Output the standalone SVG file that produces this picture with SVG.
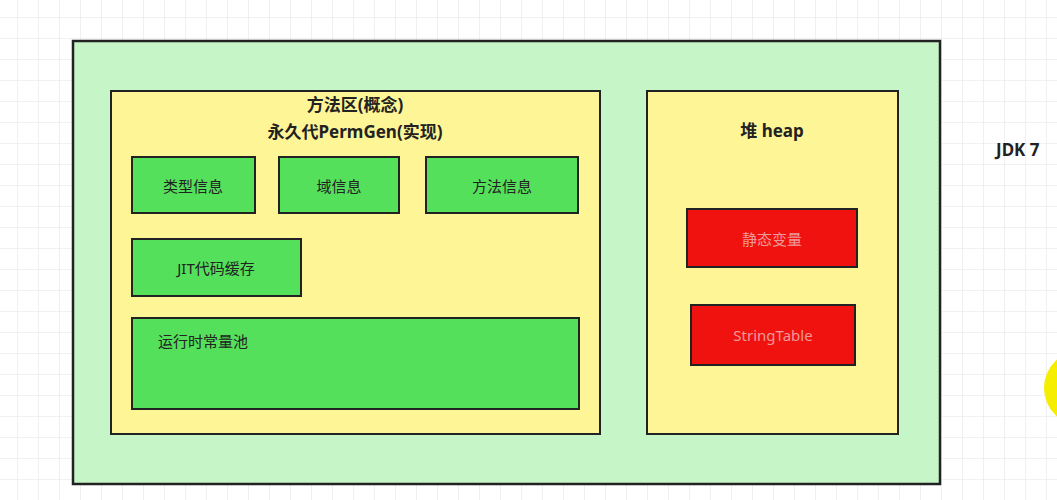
<svg xmlns="http://www.w3.org/2000/svg" width="1057" height="500" viewBox="0 0 1057 500">
<defs>
<pattern id="g" width="21" height="21" patternUnits="userSpaceOnUse" x="-3" y="-3">
<path d="M21 0V21H0" fill="none" stroke="#e6e6e6" stroke-width="1.2"/>
</pattern>
<style>
text{font-family:"Noto Sans","Noto Sans CJK SC",sans-serif;fill:#222}
.b{font-weight:bold;font-size:17px}
.n{font-size:15px}
.gr{fill:#55e05b;stroke:#222;stroke-width:2}
.rd{fill:#f0120f;stroke:#222;stroke-width:2}
.rt{fill:#e99}
</style>
</defs>
<rect width="1057" height="500" fill="#fff"/>
<rect width="1057" height="500" fill="url(#g)"/>
<circle cx="1082" cy="388" r="38" fill="#f5ee00"/>
<text x="996" y="156" class="b">JDK 7</text>
<g id="outer"><rect x="73" y="41" width="867" height="443" fill="#c6f5c8" stroke="#222" stroke-width="2.5"/></g>
<g id="method-area">
<rect x="111" y="91" width="489" height="343" fill="#fef696" stroke="#222" stroke-width="2"/>
<text x="355" y="111" class="b" text-anchor="middle">方法区(概念)</text>
<text x="355" y="138" class="b" text-anchor="middle">永久代PermGen(实现)</text>
</g>
<g id="type"><rect class="gr" x="132" y="157" width="123" height="56"/><text x="193" y="192" class="n" text-anchor="middle">类型信息</text></g>
<g id="field"><rect class="gr" x="279" y="157" width="120" height="56"/><text x="339" y="192" class="n" text-anchor="middle">域信息</text></g>
<g id="method"><rect class="gr" x="426" y="157" width="152" height="56"/><text x="502" y="192" class="n" text-anchor="middle">方法信息</text></g>
<g id="jit"><rect class="gr" x="132" y="239" width="169" height="57"/><text x="216" y="274" class="n" text-anchor="middle">JIT代码缓存</text></g>
<g id="pool"><rect class="gr" x="132" y="318" width="447" height="91"/><text x="158" y="347" class="n">运行时常量池</text></g>
<g id="heap">
<rect x="647" y="91" width="251" height="343" fill="#fef696" stroke="#222" stroke-width="2"/>
<text x="772" y="137" class="b" text-anchor="middle">堆 heap</text>
</g>
<g id="static"><rect class="rd" x="687" y="209" width="170" height="58"/><text x="772" y="245" class="n rt" text-anchor="middle">静态变量</text></g>
<g id="stringtable"><rect class="rd" x="691" y="305" width="164" height="60"/><text x="773" y="341" class="n rt" text-anchor="middle">StringTable</text></g>
<g id="connectors"/>
</svg>
